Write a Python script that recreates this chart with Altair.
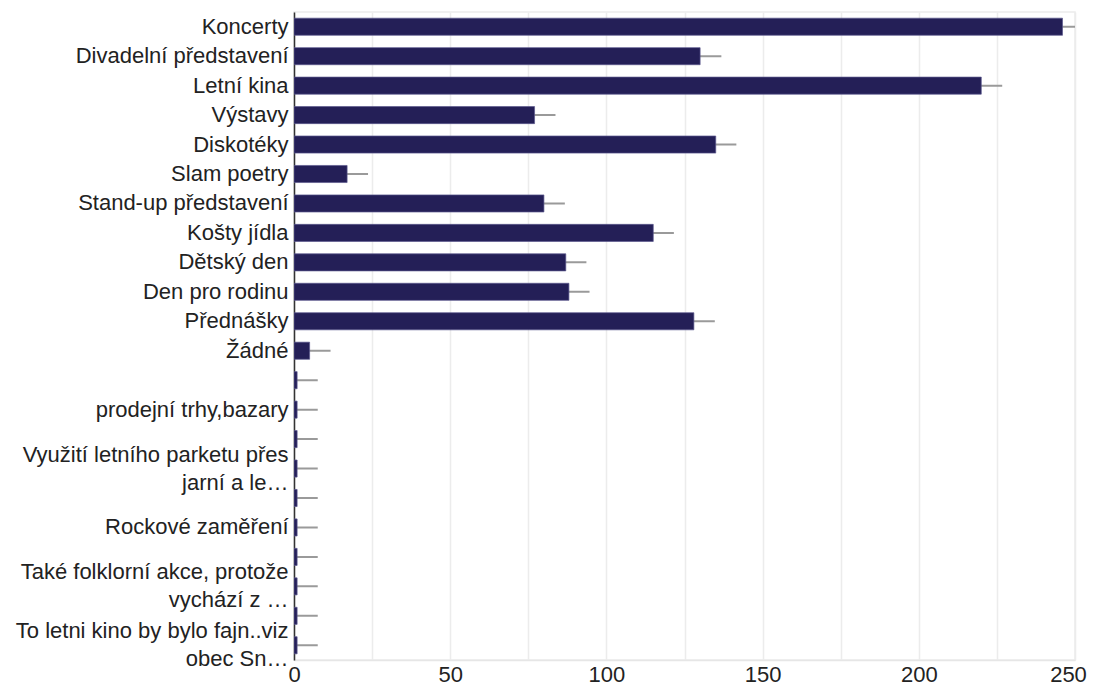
import json
import altair as alt
import pandas as pd

labels = [
    "Koncerty", "Divadelní představení", "Letní kina", "Výstavy", "Diskotéky",
    "Slam poetry", "Stand-up představení", "Košty jídla", "Dětský den",
    "Den pro rodinu", "Přednášky", "Žádné", "", "prodejní trhy,bazary", "",
    "Využití letního parketu přes\njarní a le…", "", "Rockové zaměření", "",
    "Také folklorní akce, protože\nvychází z …", "",
    "To letni kino by bylo fajn..viz\nobec Sn…",
]
values = [246, 130, 220, 77, 135, 17, 80, 115, 87, 88, 128, 5,
          1, 1, 1, 1, 1, 1, 1, 1, 1, 1]
errors = [6.7, 6.8, 6.7, 6.7, 6.6, 6.7, 6.7, 6.6, 6.6, 6.6, 6.7, 6.7,
          6.6, 6.6, 6.6, 6.6, 6.6, 6.6, 6.6, 6.6, 6.6, 6.6]
x_ticks = [0, 25, 50, 75, 100, 125, 150, 175, 200, 225, 250]

df = pd.DataFrame({"row": list(range(len(labels))), "value": values, "err": errors})

FONT = "Liberation Sans"
labels_js = json.dumps(labels, ensure_ascii=False)
label_expr = "split(" + labels_js + "[datum.value], '\\n')"
multi_test = "indexof(" + labels_js + "[datum.value], '\\n') >= 0"

y_axis = alt.Axis(
    title=None, labelExpr=label_expr, labelFontSize=22, labelLimit=400,
    labelOverlap=False, ticks=False, tickSize=0, labelPadding=6,
    domainColor="#333333", domainWidth=1.5, labelLineHeight=28, grid=False,
    labelColor="#222222", labelFont=FONT,
    labelOffset={"condition": {"test": multi_test, "value": -14}, "value": 0},
)
x_axis = alt.Axis(
    title=None, values=x_ticks,
    labelExpr="datum.value % 50 === 0 ? datum.label : ''",
    grid=True, gridColor="#ececec", gridWidth=1.5, domainColor="#e6e6e6",
    domainWidth=1.5, ticks=False, tickSize=0, labelPadding=4, labelFontSize=22,
    labelColor="#222222", labelFlush=False, labelOverlap=False, labelFont=FONT,
    labelOffset={"condition": {"test": "datum.value === 250", "value": -7}, "value": 0},
)
y_enc = alt.Y("row:O", axis=y_axis, scale=alt.Scale(paddingInner=0.42, paddingOuter=0.21))
x_scale = alt.Scale(domain=[0, 250], nice=False)

base = alt.Chart(df).transform_calculate(
    lo="datum.value - datum.err", hi="datum.value + datum.err"
)

rules = base.mark_rule(color="#9a9a9a", strokeWidth=2, clip=True).encode(
    y=y_enc,
    x=alt.X("lo:Q", scale=x_scale, axis=x_axis),
    x2="hi:Q",
)
bars = base.mark_bar(color="#241f57", stroke="#5a578c", strokeWidth=0.7, clip=True).encode(
    y=y_enc,
    x=alt.X("value:Q", scale=x_scale, axis=x_axis),
)

chart = alt.layer(rules, bars).properties(
    width=781, height=648,
    padding={"left": 286, "top": 4, "right": 12, "bottom": 24},
    autosize=alt.AutoSizeParams(type="none"),
).configure_view(stroke="#ececec", strokeWidth=1.5)

chart.save("out.html", embed_options={"renderer": "svg", "actions": False})
